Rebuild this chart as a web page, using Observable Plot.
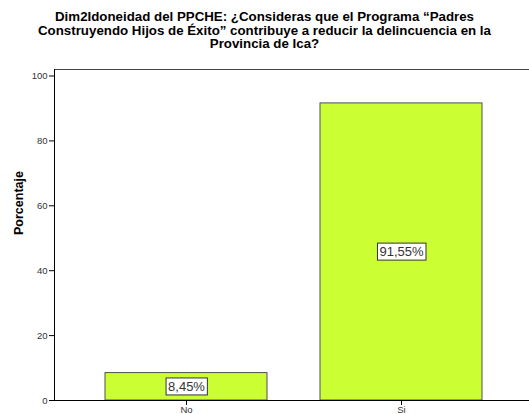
<!DOCTYPE html>
<html>
<head>
<meta charset="utf-8">
<script src="https://cdn.jsdelivr.net/npm/d3@7"></script>
<script src="https://cdn.jsdelivr.net/npm/@observablehq/plot@0.6"></script>
<style>
  body { margin: 0; background: #fff; font-family: "Liberation Sans", Arial, sans-serif; }
  #title { width: 529px; height: 60px; box-sizing: border-box; padding-top: 10px; text-align: center;
           font-weight: bold; font-size: 13.3px; line-height: 13.5px; color: #000; }
  #chart svg { display: block; }
</style>
</head>
<body>
<div id="title">Dim2Idoneidad del PPCHE: ¿Consideras que el Programa “Padres<br>Construyendo Hijos de Éxito” contribuye a reducir la delincuencia en la<br>Provincia de Ica?</div>
<div id="chart"></div>
<script>
const categories = ["No", "Si"];
const percentages = [8.45, 91.55];
const yTicks = [0, 20, 40, 60, 80, 100];

const data = categories.map((c, i) => ({cat: c, value: percentages[i]}));
const fmt = v => v.toFixed(2).replace(".", ",") + "%";

const plot = Plot.plot({
  width: 529,
  height: 354,
  marginTop: 9,
  marginBottom: 14,
  marginLeft: 54,
  marginRight: 0,
  style: {fontFamily: "Liberation Sans, Arial, sans-serif", background: "#fff", overflow: "visible"},
  x: {domain: categories, range: [54, 532.6], paddingInner: 0.248, paddingOuter: 0.237, label: null},
  y: {domain: [0, 102], label: null},
  marks: [
    Plot.barY(data, {x: "cat", y: "value", fill: "#ccff33", stroke: "#505050", strokeWidth: 1}),
    Plot.ruleY([0], {stroke: "#000"}),
    Plot.ruleY([102], {stroke: "#444"}),
    Plot.frame({anchor: "left", stroke: "#000"}),
    Plot.axisY({ticks: yTicks, tickSize: 5, tickPadding: 2, fontSize: 9.5, fill: "#333", stroke: "#000", label: null, tickFormat: d => d}),
    Plot.axisX({tickSize: 5, tickPadding: 1, fontSize: 9.5, fill: "#333", stroke: "#000", label: null}),
    Plot.text(data, {x: "cat", y: d => d.value / 2, text: d => fmt(d.value), fontSize: 13, fill: "#333", className: "vlab"}),
    Plot.text(["Porcentaje"], {frameAnchor: "left", dx: -36, rotate: -90, fontWeight: "bold", fontSize: 12.5, fill: "#000"})
  ]
});
document.getElementById("chart").appendChild(plot);

// white boxes behind value labels
plot.querySelectorAll(".vlab text").forEach(t => {
  const b = t.getBBox();
  const r = document.createElementNS("http://www.w3.org/2000/svg", "rect");
  r.setAttribute("x", b.x - 2);
  r.setAttribute("y", b.y - 1);
  r.setAttribute("width", b.width + 4);
  r.setAttribute("height", b.height + 2);
  r.setAttribute("fill", "#fff");
  r.setAttribute("stroke", "#333");
  r.setAttribute("stroke-width", 1);
  const tr = t.getAttribute("transform");
  if (tr) r.setAttribute("transform", tr);
  t.parentNode.insertBefore(r, t);
});
</script>
</body>
</html>
